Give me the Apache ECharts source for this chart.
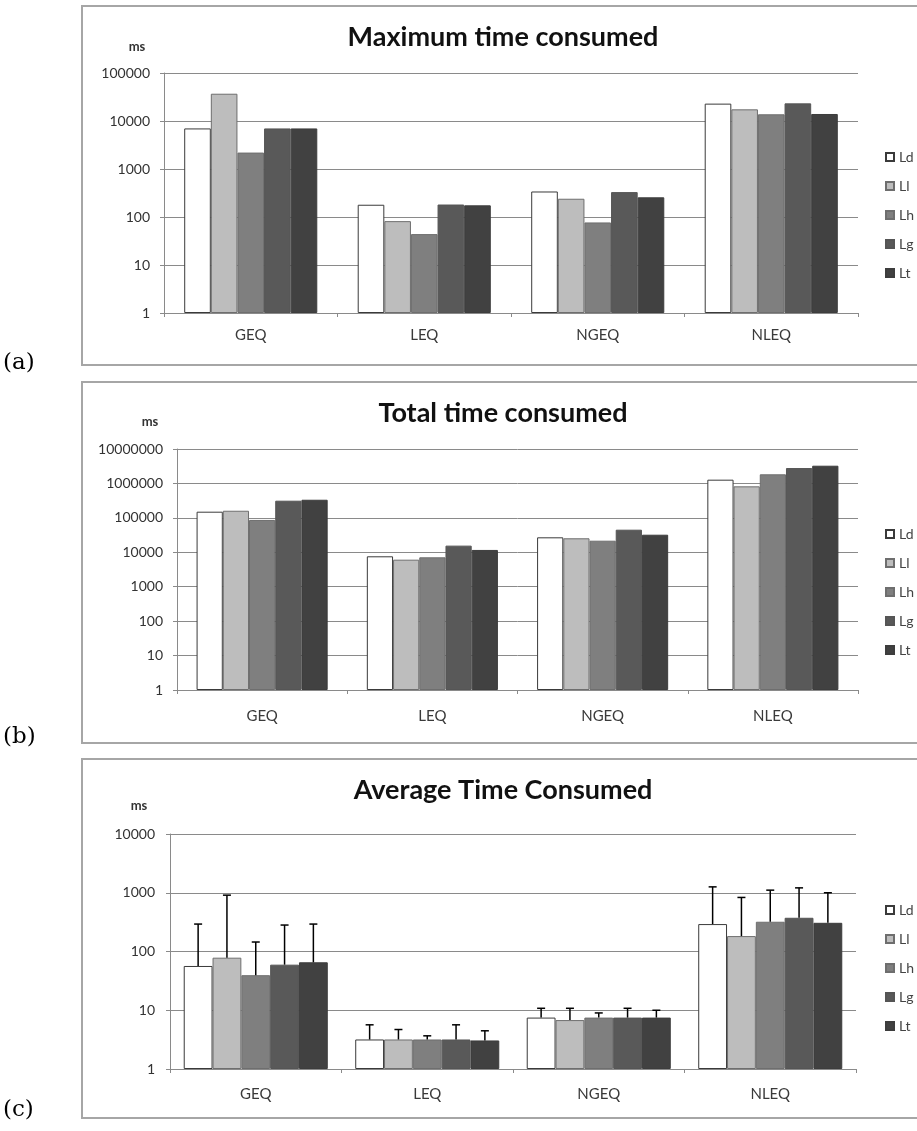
<!DOCTYPE html>
<html>
<head>
<meta charset="utf-8">
<script src="https://cdn.jsdelivr.net/npm/echarts@6/dist/echarts.min.js"></script>
<style>
html,body{margin:0;padding:0;background:#fff;}
#chart{width:917px;height:1131px;}
</style>
</head>
<body>
<div id="chart"></div>
<script>
// ---------- data ----------
const categories = ['GEQ', 'LEQ', 'NGEQ', 'NLEQ'];
const seriesNames = ['Ld', 'Ll', 'Lh', 'Lg', 'Lt'];

// (a) Maximum time consumed (ms)
const maxLd = [7000, 180, 340, 23000];
const maxLl = [37000, 82, 240, 17500];
const maxLh = [2200, 44, 77, 13800];
const maxLg = [7000, 182, 330, 23300];
const maxLt = [7000, 175, 257, 14000];

// (b) Total time consumed (ms)
const totLd = [151000, 7640, 27200, 1285000];
const totLl = [161000, 6100, 25500, 823000];
const totLh = [87000, 7150, 21700, 1840000];
const totLg = [315000, 15600, 45300, 2800000];
const totLt = [336000, 11700, 32400, 3270000];

// (c) Average time consumed (ms) and top of error bars
const avgLd = [56.7, 3.18, 7.5, 293];
const avgLl = [78.5, 3.18, 6.8, 183];
const avgLh = [39.5, 3.18, 7.5, 321];
const avgLg = [59.7, 3.18, 7.5, 375];
const avgLt = [65.5, 3.06, 7.5, 308];
const errLd = [293, 5.65, 10.8, 1259];
const errLl = [910, 4.7, 10.8, 832];
const errLh = [145, 3.67, 9.0, 1107];
const errLg = [282, 5.65, 10.8, 1211];
const errLt = [293, 4.47, 10.0, 1000];

// tick labels
const ticksA = ['1', '10', '100', '1000', '10000', '100000'];
const ticksB = ['1', '10', '100', '1000', '10000', '100000', '1000000', '10000000'];
const ticksC = ['1', '10', '100', '1000', '10000'];

const titles = ['Maximum time consumed', 'Total time consumed', 'Average Time Consumed'];
const panelTags = ['(a)', '(b)', '(c)'];
const unitLabel = 'ms';

// ---------- styling ----------
const fills = ['#ffffff', '#bdbdbd', '#7f7f7f', '#595959', '#414141'];
const borders = ['#3a3a3a', '#6e6e6e', '#6e6e6e', '#555555', '#3d3d3d'];
const FONT = 'Lato, "Open Sans", sans-serif';
const gridColor = '#8a8a8a';

const maxData = [maxLd, maxLl, maxLh, maxLg, maxLt];
const totData = [totLd, totLl, totLh, totLg, totLt];
const avgData = [avgLd, avgLl, avgLh, avgLg, avgLt];
const errData = [errLd, errLl, errLh, errLg, errLt];

const grids = [
  {left: 164, right: 59, top: 73, height: 240},
  {left: 177, right: 59, top: 449, height: 241},
  {left: 170, right: 61, top: 834, height: 235}
];
const gaps = [0.233, 0.23, 0.16];
const yMax = [1e5, 1e7, 1e4];
const tickSets = [ticksA, ticksB, ticksC];
const xLabelMargin = [15, 19, 18];
const yLabelMargin = [14, 14, 15];

const xAxes = grids.map((g, i) => ({
  type: 'category', gridIndex: i, data: categories,
  axisLine: {lineStyle: {color: gridColor, width: 1}},
  axisTick: {show: true, length: 4, lineStyle: {color: gridColor}},
  axisLabel: {fontFamily: FONT, fontSize: 15, color: '#3a3a3a', margin: xLabelMargin[i]}
}));
const yAxes = grids.map((g, i) => ({
  type: 'log', logBase: 10, gridIndex: i, min: 1, max: yMax[i], interval: 1,
  axisLine: {show: true, lineStyle: {color: gridColor, width: 1}},
  axisTick: {show: true, length: 4, lineStyle: {color: gridColor}},
  splitLine: {show: true, lineStyle: {color: gridColor, width: 1}},
  minorTick: {show: false},
  axisLabel: {
    fontFamily: FONT, fontSize: 14, color: '#333', margin: yLabelMargin[i],
    formatter: (v) => tickSets[i][Math.round(Math.log10(v))]
  }
}));

const series = [];
[maxData, totData, avgData].forEach((set, p) => {
  set.forEach((vals, s) => {
    series.push({
      type: 'bar', name: seriesNames[s], xAxisIndex: p, yAxisIndex: p,
      data: vals, barGap: 0, barCategoryGap: (gaps[p] * 100) + '%',
      itemStyle: {color: fills[s], borderColor: borders[s], borderWidth: 1},
      emphasis: {disabled: true},
      z: 2
    });
  });
});

// error bars for panel (c)
errData.forEach((tops, s) => {
  series.push({
    type: 'custom', name: seriesNames[s] + ' err', xAxisIndex: 2, yAxisIndex: 2,
    data: tops.map((t, k) => [k, t, avgData[s][k]]),
    encode: {x: 0, y: 1},
    z: 5,
    renderItem: function (params, api) {
      const cat = api.value(0);
      const hi = api.value(1);
      const lo = api.value(2);
      const base = api.coord([cat, lo]);
      const top = api.coord([cat, hi]);
      const band = api.size([1, 1], [cat, 1])[0];
      const bw = band * (1 - gaps[2]) / 5;
      const x = base[0] + (s - 2) * bw;
      const st = {stroke: '#000', lineWidth: 1.5};
      return {
        type: 'group', children: [
          {type: 'line', shape: {x1: x, y1: base[1], x2: x, y2: top[1]}, style: st},
          {type: 'line', shape: {x1: x - 4, y1: top[1], x2: x + 4, y2: top[1]}, style: st}
        ]
      };
    }
  });
});

const legendTops = [145, 522, 898];
const legends = legendTops.map(t => ({
  orient: 'vertical', left: 880, top: t,
  data: seriesNames, itemWidth: 8, itemHeight: 8, itemGap: 15,
  icon: 'rect', selectedMode: false,
  textStyle: {fontFamily: FONT, fontSize: 14, color: '#444', lineHeight: 14, padding: [0, 0, 0, 0]}
}));

const frames = [
  {y: 6, h: 359}, {y: 382, h: 361}, {y: 759, h: 359}
];
const titleY = [37, 413, 790];
const msPos = [[137, 47], [150, 422], [139, 806]];
const tagY = [363, 737, 1110];

const graphics = [];
frames.forEach((f, i) => {
  graphics.push({type: 'rect', shape: {x: 82, y: f.y, width: 900, height: f.h},
    style: {fill: 'none', stroke: '#a6a6a6', lineWidth: 2}, z: -1});
  graphics.push({type: 'text', x: 503, y: titleY[i], style: {
    text: titles[i], font: 'bold 27px ' + FONT, fill: '#111', textAlign: 'center', textVerticalAlign: 'middle'}});
  graphics.push({type: 'text', x: msPos[i][0], y: msPos[i][1], style: {
    text: unitLabel, font: 'bold 13px ' + FONT, fill: '#333', textAlign: 'center', textVerticalAlign: 'middle'}});
  graphics.push({type: 'text', x: 3, y: tagY[i], style: {
    text: panelTags[i], font: '23px "DejaVu Serif", "Liberation Serif", serif', fill: '#000', textAlign: 'left', textVerticalAlign: 'middle'}});
});

const chart = echarts.init(document.getElementById('chart'), null, {renderer: 'canvas'});
chart.setOption({
  backgroundColor: '#fff',
  animation: false,
  grid: grids,
  xAxis: xAxes,
  yAxis: yAxes,
  legend: legends,
  series: series,
  graphic: graphics
});
</script>
</body>
</html>
